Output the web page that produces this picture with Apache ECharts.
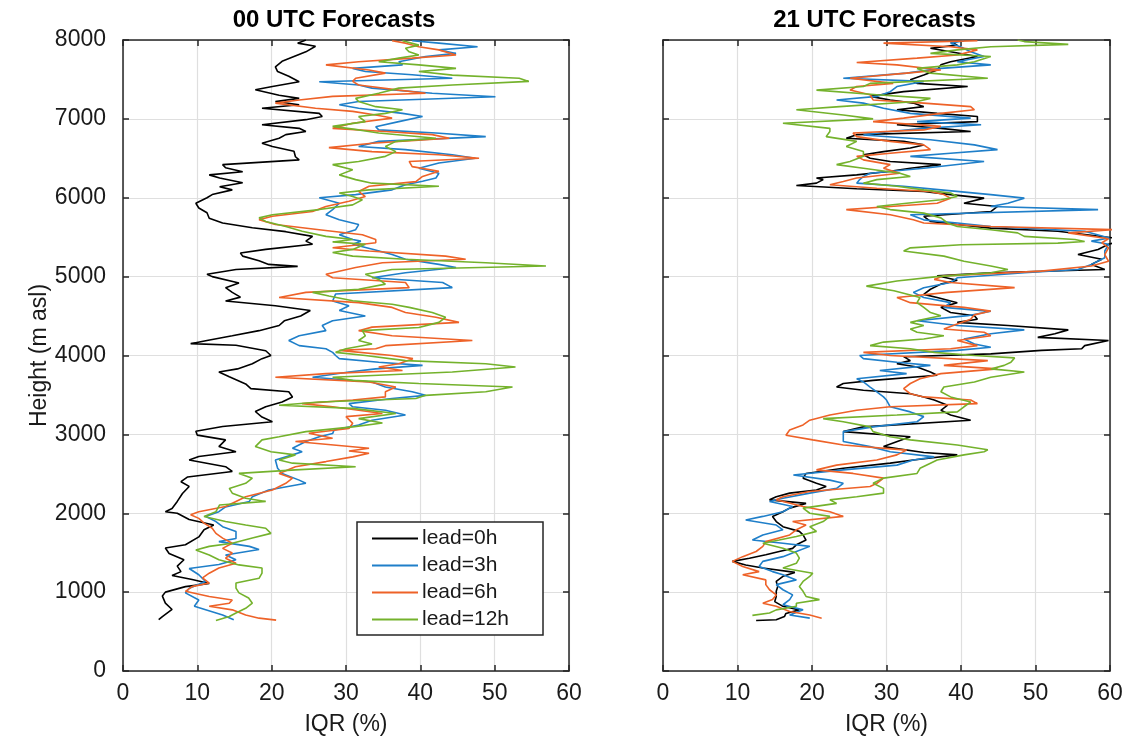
<!DOCTYPE html>
<html>
<head>
<meta charset="utf-8">
<script src="https://cdn.jsdelivr.net/npm/echarts@6/dist/echarts.min.js"></script>
<style>html,body{margin:0;padding:0;background:#fff;}#chart{width:1148px;height:741px;}</style>
</head>
<body>
<div id="chart"></div>
<script>
// ---------- labels ----------
const panelTitles = ['00 UTC Forecasts', '21 UTC Forecasts'];
const seriesNames = ['lead=0h', 'lead=3h', 'lead=6h', 'lead=12h'];
const xName = 'IQR (%)';
const yName = 'Height (m asl)';
const xTicks = [0, 60, 10];      // min, max, interval
const yTicks = [0, 8000, 1000];

// ---------- data: [IQR (%), height (m)] ----------
const left_lead0 = [[4.8,650],[5.3,690],[6.6,780],[5.7,860],[5.3,950],[5.7,1000],[8.4,1070],[11.6,1110],[9.3,1160],[6.6,1210],[7.8,1260],[7.3,1330],[8.2,1410],[6.2,1490],[5.7,1560],[8.4,1600],[10.2,1700],[10.9,1790],[12.2,1850],[8.9,1920],[7.3,2000],[5.7,2020],[6.6,2060],[7.3,2150],[8.0,2250],[8.9,2340],[7.8,2400],[8.7,2460],[14.7,2530],[13.8,2590],[8.9,2675],[10.2,2720],[15.2,2780],[12.9,2845],[13.8,2930],[10.0,2990],[9.8,3040],[13.4,3100],[20.1,3160],[18.7,3220],[17.8,3290],[19.2,3350],[21.4,3410],[22.8,3475],[22.3,3540],[17.2,3580],[16.5,3640],[14.3,3730],[12.9,3790],[15.4,3830],[17.4,3895],[18.7,3960],[19.9,4000],[19.2,4060],[15.2,4130],[9.1,4150],[11.3,4190],[14.7,4250],[18.3,4315],[21.0,4380],[21.7,4440],[23.9,4500],[25.2,4570],[20.5,4630],[13.8,4690],[15.8,4740],[14.7,4800],[13.8,4860],[15.6,4920],[12.0,5000],[11.3,5030],[15.2,5090],[23.5,5130],[19.6,5155],[18.3,5200],[16.1,5260],[15.8,5300],[19.2,5345],[25.5,5410],[24.6,5450],[25.5,5510],[21.9,5570],[17.4,5620],[13.4,5680],[11.6,5740],[11.3,5810],[10.2,5870],[9.8,5930],[11.3,6000],[12.0,6040],[14.7,6100],[13.0,6140],[16.1,6190],[13.0,6250],[11.6,6290],[16.1,6330],[13.8,6380],[13.4,6420],[23.7,6480],[23.2,6520],[23.0,6590],[20.1,6650],[18.7,6690],[21.0,6755],[21.9,6800],[24.6,6840],[23.7,6880],[18.7,6925],[24.6,6990],[26.8,7030],[26.4,7070],[18.7,7135],[23.7,7180],[20.5,7220],[23.7,7260],[21.0,7300],[17.8,7370],[20.1,7410],[23.7,7470],[22.3,7540],[20.8,7600],[20.5,7660],[21.4,7730],[23.0,7790],[24.6,7850],[25.9,7920],[23.5,7960],[24.6,8000]];
const left_lead3 = [[14.9,650],[13.4,710],[9.6,820],[10.2,900],[8.4,990],[8.9,1050],[11.1,1135],[10.2,1220],[8.9,1300],[12.9,1350],[15.2,1410],[13.8,1470],[18.3,1540],[17.0,1580],[12.9,1640],[15.2,1680],[15.2,1770],[13.4,1830],[12.5,1895],[11.1,1960],[12.9,2020],[13.8,2080],[17.0,2150],[17.4,2210],[19.6,2295],[24.6,2380],[23.7,2420],[21.4,2505],[20.8,2570],[20.5,2675],[22.8,2740],[24.1,2780],[22.8,2825],[24.6,2910],[26.4,2970],[28.2,3010],[28.4,3055],[31.7,3120],[33.5,3180],[38.0,3245],[35.3,3305],[30.9,3350],[30.4,3390],[36.2,3455],[40.7,3495],[38.9,3540],[35.3,3600],[33.5,3665],[25.5,3725],[30.4,3790],[34.0,3830],[40.3,3875],[34.4,3915],[29.1,3960],[28.6,4000],[28.2,4040],[27.3,4085],[23.7,4125],[22.3,4190],[23.7,4250],[27.3,4315],[26.8,4380],[28.2,4440],[32.6,4500],[29.1,4570],[30.4,4630],[28.2,4690],[28.6,4780],[44.3,4860],[43.0,4925],[33.5,4985],[38.0,5050],[44.8,5115],[42.5,5155],[38.0,5220],[36.2,5280],[33.7,5345],[30.9,5410],[32.0,5450],[30.9,5470],[29.1,5530],[31.3,5595],[31.7,5660],[29.1,5720],[27.3,5785],[28.2,5850],[29.1,5930],[26.4,6000],[31.3,6040],[36.2,6100],[38.0,6165],[40.3,6210],[42.1,6250],[42.5,6310],[39.8,6375],[42.5,6440],[47.4,6500],[44.3,6545],[38.0,6610],[31.7,6650],[34.4,6715],[48.8,6775],[42.1,6820],[34.4,6860],[34.0,6900],[37.1,6965],[40.3,7030],[37.6,7070],[31.7,7135],[29.1,7180],[31.7,7220],[50.1,7280],[41.6,7325],[33.5,7390],[31.7,7430],[26.4,7470],[44.3,7515],[38.9,7560],[32.6,7600],[30.9,7640],[37.6,7685],[37.1,7725],[40.7,7790],[44.8,7830],[42.5,7875],[47.7,7915],[42.5,7960],[38.9,7990]];
const left_lead6 = [[20.6,645],[18.3,670],[16.5,710],[14.7,775],[11.6,820],[14.3,860],[14.7,900],[11.6,945],[8.4,1010],[9.3,1070],[11.6,1115],[10.7,1180],[11.6,1240],[12.9,1305],[15.2,1365],[13.8,1430],[14.7,1495],[13.4,1555],[14.7,1620],[13.4,1685],[12.5,1745],[12.0,1810],[10.9,1875],[10.2,1935],[9.1,1980],[10.2,2020],[13.8,2085],[15.2,2150],[16.5,2210],[20.1,2295],[21.9,2380],[22.8,2445],[21.0,2505],[23.2,2590],[27.3,2655],[30.9,2715],[33.1,2760],[30.4,2790],[33.1,2825],[23.2,2910],[28.2,2950],[25.0,3015],[30.4,3075],[30.9,3140],[30.0,3225],[34.9,3265],[31.7,3305],[28.2,3350],[24.1,3390],[30.9,3435],[35.3,3475],[35.3,3540],[36.7,3600],[33.1,3665],[20.5,3725],[27.3,3770],[37.6,3810],[34.4,3855],[37.1,3895],[39.0,3960],[36.2,4000],[29.1,4065],[34.0,4085],[35.3,4125],[47.0,4190],[36.2,4250],[31.7,4315],[33.5,4360],[45.2,4420],[42.1,4485],[38.0,4545],[36.2,4610],[31.7,4670],[21.0,4735],[24.6,4800],[38.5,4860],[38.0,4925],[28.2,4985],[27.3,5030],[31.3,5115],[34.9,5175],[46.1,5220],[43.4,5260],[33.1,5325],[28.2,5366],[34.0,5430],[34.0,5470],[32.2,5530],[26.4,5595],[20.5,5660],[18.3,5720],[20.1,5765],[25.5,5825],[27.3,5890],[30.4,5955],[32.6,6015],[31.7,6080],[33.1,6145],[39.4,6205],[40.3,6270],[42.5,6335],[38.9,6395],[38.5,6460],[47.9,6500],[42.5,6545],[33.5,6585],[27.7,6635],[33.5,6690],[43.9,6755],[41.6,6800],[35.3,6840],[28.2,6880],[30.9,6945],[36.2,7010],[34.0,7050],[30.9,7095],[25.9,7135],[20.5,7200],[23.7,7240],[28.2,7285],[40.7,7325],[37.1,7365],[31.7,7430],[30.9,7475],[31.3,7515],[35.3,7580],[33.1,7620],[27.3,7685],[31.7,7725],[38.9,7770],[44.8,7810],[42.5,7875],[39.8,7915],[38.0,7960],[36.2,7990]];
const left_lead12 = [[12.5,640],[14.3,690],[15.2,735],[16.5,795],[17.4,860],[16.9,925],[15.6,990],[15.2,1050],[15.2,1115],[18.3,1175],[18.7,1240],[18.7,1305],[15.6,1345],[12.9,1410],[11.6,1470],[9.8,1535],[11.6,1580],[14.7,1620],[17.4,1685],[19.9,1745],[19.2,1810],[16.5,1850],[13.8,1895],[10.9,1960],[12.5,2020],[13.0,2105],[19.2,2150],[16.5,2190],[14.7,2255],[14.3,2315],[16.5,2380],[17.4,2445],[15.6,2505],[23.2,2550],[31.3,2590],[22.8,2635],[21.0,2675],[23.2,2740],[19.9,2780],[17.8,2845],[18.7,2930],[21.0,2970],[24.6,3035],[30.9,3095],[34.9,3145],[31.7,3200],[36.7,3265],[30.9,3330],[21.0,3370],[26.4,3410],[39.4,3455],[40.7,3495],[48.8,3540],[52.4,3600],[39.8,3645],[30.9,3685],[28.2,3725],[44.3,3790],[52.8,3855],[48.8,3895],[38.0,3935],[32.6,4000],[28.6,4040],[30.0,4085],[33.5,4145],[31.7,4190],[32.6,4250],[32.2,4315],[39.8,4355],[42.5,4420],[43.4,4485],[41.6,4545],[38.5,4610],[36.2,4650],[30.9,4695],[27.7,4755],[25.5,4800],[31.7,4840],[35.3,4905],[34.4,4965],[32.6,5030],[36.2,5090],[56.9,5135],[48.8,5175],[38.0,5220],[30.9,5260],[28.2,5305],[30.9,5345],[32.6,5410],[28.2,5440],[30.9,5470],[27.3,5510],[24.1,5575],[21.9,5635],[19.2,5700],[18.3,5745],[20.1,5785],[26.4,5850],[30.9,5910],[32.2,5975],[30.9,6015],[29.1,6060],[33.1,6100],[42.5,6145],[33.5,6185],[31.3,6230],[29.1,6290],[30.9,6355],[28.2,6420],[31.7,6460],[35.3,6525],[36.7,6585],[35.3,6650],[36.7,6715],[42.1,6755],[34.4,6820],[31.7,6860],[28.2,6905],[32.6,6965],[31.7,7030],[35.3,7070],[37.6,7115],[34.0,7155],[31.7,7220],[31.3,7260],[34.4,7325],[37.1,7390],[44.3,7430],[54.6,7475],[53.3,7515],[44.3,7555],[39.8,7600],[44.8,7640],[39.8,7685],[34.4,7725],[37.1,7770],[39.8,7810],[38.5,7850],[38.0,7895],[39.8,7935],[37.6,7990]];

const right_lead0 = [[12.5,640],[15.2,650],[16.3,690],[16.5,730],[18.3,775],[16.1,820],[15.0,880],[15.2,945],[15.2,1010],[15.4,1070],[15.2,1135],[16.1,1200],[17.7,1250],[13.4,1305],[11.1,1345],[9.3,1390],[11.6,1430],[13.8,1475],[15.6,1515],[17.4,1555],[17.9,1600],[19.2,1660],[18.8,1725],[18.3,1770],[16.1,1830],[15.2,1895],[14.7,1960],[16.1,2020],[17.0,2065],[19.2,2125],[14.3,2170],[15.2,2210],[17.0,2255],[20.6,2295],[21.9,2340],[20.6,2380],[18.8,2445],[19.2,2505],[24.2,2570],[30.5,2635],[33.6,2675],[39.5,2740],[35.0,2770],[29.6,2845],[33.2,2970],[24.2,3035],[26.9,3095],[41.3,3180],[38.6,3245],[37.3,3305],[38.2,3370],[36.4,3435],[35.0,3475],[33.2,3515],[26.9,3560],[23.3,3600],[24.2,3645],[28.2,3685],[36.8,3750],[35.9,3790],[34.1,3855],[31.4,3895],[33.2,3935],[32.3,3985],[44.0,4020],[50.8,4065],[56.2,4085],[56.6,4125],[59.8,4190],[50.3,4230],[52.6,4275],[54.4,4325],[46.3,4380],[39.5,4420],[42.2,4460],[41.8,4505],[38.6,4545],[37.3,4610],[39.5,4670],[36.8,4735],[35.0,4775],[35.9,4840],[37.3,4905],[39.5,4955],[36.8,5010],[44.0,5050],[59.3,5090],[57.5,5155],[58.9,5220],[55.7,5280],[58.4,5345],[59.8,5410],[61.0,5440],[60.5,5490],[53.0,5575],[44.0,5615],[39.5,5660],[35.9,5700],[35.0,5765],[44.0,5825],[44.9,5890],[40.4,5930],[43.1,5995],[38.6,6040],[35.0,6080],[26.0,6115],[17.9,6155],[20.6,6185],[21.5,6230],[20.6,6250],[26.0,6290],[30.5,6335],[33.2,6375],[37.3,6420],[30.5,6460],[27.8,6500],[26.9,6545],[29.6,6585],[33.2,6630],[35.0,6670],[32.3,6715],[24.6,6755],[26.0,6800],[41.3,6840],[37.3,6880],[31.4,6925],[42.2,6965],[42.2,7030],[36.8,7070],[31.4,7115],[35.0,7155],[33.6,7200],[30.5,7240],[27.8,7285],[32.3,7345],[40.9,7410],[34.1,7450],[33.2,7495],[35.0,7555],[36.8,7620],[37.3,7685],[38.6,7725],[42.2,7790],[38.6,7850],[35.9,7895],[39.5,7935],[38.6,7980]];
const right_lead3 = [[19.7,670],[17.0,710],[18.8,775],[16.1,840],[17.0,905],[17.4,965],[16.1,1030],[15.2,1095],[17.9,1155],[16.1,1220],[14.7,1260],[12.9,1325],[13.4,1390],[16.1,1450],[17.9,1515],[19.7,1580],[16.1,1620],[12.0,1660],[13.4,1725],[16.1,1790],[15.2,1850],[11.1,1915],[13.4,1960],[16.1,2020],[17.4,2085],[14.3,2150],[16.1,2190],[19.7,2255],[23.3,2315],[24.2,2380],[22.4,2420],[17.5,2485],[24.2,2550],[31.4,2610],[33.6,2675],[36.4,2715],[30.5,2780],[27.8,2845],[24.2,2910],[24.2,2970],[24.2,3035],[28.2,3095],[34.1,3160],[35.0,3225],[33.2,3285],[30.5,3350],[30.0,3435],[29.6,3475],[28.7,3540],[27.8,3600],[26.9,3665],[26.0,3705],[32.7,3770],[29.1,3810],[35.9,3875],[31.4,3915],[26.9,3960],[26.4,4000],[39.5,4065],[44.0,4105],[41.8,4145],[40.4,4210],[44.0,4275],[48.5,4325],[39.5,4380],[34.1,4440],[40.9,4505],[44.0,4560],[37.7,4610],[38.6,4670],[35.0,4735],[33.6,4800],[35.0,4860],[38.6,4925],[39.5,4985],[48.5,5050],[55.7,5090],[57.5,5155],[59.3,5240],[59.3,5325],[59.8,5410],[57.5,5450],[59.9,5490],[56.6,5575],[44.0,5635],[39.5,5680],[35.0,5720],[33.2,5785],[58.4,5850],[44.0,5890],[46.3,5930],[48.5,5995],[44.0,6040],[37.3,6100],[32.3,6145],[26.0,6185],[26.4,6230],[26.9,6270],[27.8,6310],[35.0,6375],[43.1,6460],[33.2,6525],[38.6,6565],[44.9,6610],[41.8,6670],[35.9,6735],[26.9,6795],[30.5,6840],[35.0,6880],[42.7,6925],[34.1,6965],[41.3,7010],[33.2,7070],[29.6,7135],[26.9,7200],[23.3,7240],[28.7,7285],[30.5,7345],[31.4,7410],[35.0,7475],[24.2,7515],[32.7,7580],[37.3,7640],[44.0,7685],[39.5,7725],[43.1,7790],[41.3,7850],[39.9,7915],[38.6,7960],[40.4,7990]];
const right_lead6 = [[21.3,670],[19.7,710],[17.0,755],[15.2,820],[13.4,860],[14.7,905],[15.2,965],[14.3,1030],[13.8,1095],[13.8,1155],[10.7,1220],[12.9,1260],[10.7,1325],[9.3,1390],[10.7,1450],[12.5,1515],[13.4,1580],[13.8,1640],[17.0,1725],[17.9,1790],[19.2,1850],[17.4,1895],[24.2,1960],[22.4,2020],[18.8,2085],[15.2,2170],[16.1,2210],[19.7,2275],[27.8,2340],[28.7,2380],[29.6,2445],[25.5,2505],[20.6,2550],[23.3,2610],[28.7,2675],[31.4,2740],[32.7,2800],[24.2,2865],[20.1,2930],[16.5,2990],[17.0,3055],[18.8,3120],[19.7,3180],[22.4,3245],[26.0,3305],[30.5,3350],[42.2,3390],[41.3,3435],[35.0,3475],[33.2,3515],[32.3,3580],[33.2,3645],[34.5,3705],[37.3,3770],[44.9,3830],[37.7,3875],[43.6,3935],[30.5,4000],[26.9,4040],[38.6,4085],[42.2,4125],[39.5,4190],[44.0,4250],[43.1,4295],[37.7,4335],[39.5,4400],[41.3,4460],[41.8,4515],[44.0,4565],[40.4,4610],[33.2,4670],[31.4,4735],[38.2,4800],[47.2,4860],[38.6,4925],[36.4,4965],[37.7,5010],[50.8,5070],[57.5,5135],[59.8,5195],[59.3,5280],[59.8,5365],[58.9,5430],[59.8,5480],[54.4,5555],[60.5,5595],[44.0,5635],[35.0,5680],[33.6,5720],[30.5,5785],[24.6,5850],[30.5,5890],[36.8,5930],[38.6,5995],[37.7,6040],[35.9,6080],[28.7,6120],[22.4,6165],[24.2,6205],[26.0,6250],[31.8,6310],[29.6,6375],[30.5,6420],[26.9,6480],[26.0,6525],[30.5,6565],[35.9,6610],[35.0,6670],[30.5,6715],[26.0,6775],[25.5,6820],[35.0,6860],[37.3,6905],[28.2,6965],[32.3,7010],[37.3,7070],[41.8,7115],[41.3,7155],[35.0,7200],[28.2,7240],[27.8,7305],[25.1,7365],[26.0,7410],[30.9,7450],[25.1,7515],[32.7,7580],[37.3,7620],[31.4,7685],[26.0,7715],[34.1,7770],[39.5,7810],[42.2,7875],[38.6,7915],[29.6,7960],[42.2,7990]];
const right_lead12 = [[12.0,705],[14.3,735],[15.2,775],[17.9,820],[17.9,860],[21.0,905],[19.2,945],[18.8,1010],[18.3,1070],[18.8,1135],[19.7,1200],[20.1,1240],[16.1,1305],[17.9,1365],[18.3,1430],[17.9,1495],[16.1,1555],[13.4,1620],[15.6,1660],[17.9,1705],[20.6,1770],[19.7,1830],[21.5,1895],[22.4,1960],[19.7,2000],[18.8,2065],[23.3,2125],[22.4,2170],[26.0,2210],[29.6,2255],[29.6,2315],[28.2,2380],[29.6,2445],[34.1,2505],[34.5,2570],[35.9,2635],[36.8,2675],[40.4,2740],[43.1,2780],[43.6,2805],[39.5,2865],[33.2,2930],[30.5,2970],[28.2,3035],[27.8,3095],[24.2,3160],[21.5,3200],[31.4,3245],[39.5,3285],[40.4,3350],[41.3,3410],[38.6,3475],[37.3,3540],[37.7,3600],[41.8,3665],[44.0,3725],[48.5,3790],[44.0,3830],[45.8,3875],[46.7,3915],[47.2,3970],[41.8,4000],[36.4,4040],[33.2,4085],[27.8,4125],[29.6,4170],[35.0,4210],[37.7,4250],[34.1,4295],[33.2,4335],[35.0,4380],[33.2,4420],[35.0,4460],[37.3,4505],[35.9,4545],[35.0,4610],[34.1,4670],[34.5,4735],[31.0,4820],[27.3,4880],[31.4,4945],[36.8,5000],[44.0,5050],[46.3,5090],[44.0,5135],[40.4,5195],[37.7,5260],[32.3,5325],[33.2,5365],[40.0,5405],[53.0,5425],[56.6,5445],[55.3,5470],[48.5,5510],[47.6,5555],[44.0,5595],[39.5,5635],[38.2,5680],[37.3,5745],[35.0,5805],[30.5,5850],[28.7,5890],[32.7,5930],[37.3,5975],[39.5,6015],[38.6,6060],[35.0,6100],[31.4,6145],[26.9,6185],[28.7,6230],[33.2,6270],[31.8,6310],[26.9,6375],[23.3,6420],[25.1,6460],[26.9,6525],[26.9,6585],[24.6,6650],[26.0,6715],[21.9,6775],[22.4,6840],[22.4,6880],[16.1,6945],[28.2,7000],[24.2,7050],[17.9,7115],[23.7,7155],[34.1,7220],[35.9,7260],[28.7,7305],[20.6,7365],[26.9,7410],[27.8,7450],[43.6,7515],[35.9,7580],[34.1,7640],[39.5,7685],[41.8,7725],[44.0,7790],[35.9,7830],[39.5,7875],[44.0,7915],[54.4,7945],[48.5,7980],[47.6,8000]];

const leftData = [left_lead0, left_lead3, left_lead6, left_lead12];
const rightData = [right_lead0, right_lead3, right_lead6, right_lead12];
const colors = ['#000000', '#1f7fc9', '#ee6228', '#74b22c'];

// ---------- chart ----------
const FONT = '"Liberation Sans", Arial, Helvetica, sans-serif';
const AX = '#262626';
const TXT = '#1a1a1a';
const chart = echarts.init(document.getElementById('chart'), null, {renderer: 'canvas'});

const grids = [
  {left: 123, top: 40, width: 446, height: 631},
  {left: 663, top: 40, width: 447, height: 631}
];

function xAxes(gi) {
  return [
    {
      type: 'value', gridIndex: gi, position: 'bottom',
      min: xTicks[0], max: xTicks[1], interval: xTicks[2],
      name: xName, nameLocation: 'middle', nameGap: 42,
      nameTextStyle: {fontFamily: FONT, fontSize: 23, color: TXT},
      axisLine: {show: true, onZero: false, lineStyle: {color: AX, width: 1.5}},
      axisTick: {show: true, inside: true, length: 6, lineStyle: {color: AX, width: 1.5}},
      axisLabel: {show: true, margin: 11, fontFamily: FONT, fontSize: 23, color: TXT,
                  formatter: function (v) { return String(v); }},
      splitLine: {show: true, lineStyle: {color: '#dfdfdf', width: 1.2}}
    },
    {
      type: 'value', gridIndex: gi, position: 'top',
      min: xTicks[0], max: xTicks[1], interval: xTicks[2],
      name: panelTitles[gi], nameLocation: 'middle', nameGap: 8,
      nameTextStyle: {fontFamily: FONT, fontSize: 24, fontWeight: 'bold', color: '#000', padding: [0, 24, 0, 0]},
      axisLine: {show: true, onZero: false, lineStyle: {color: AX, width: 1.5}},
      axisTick: {show: true, inside: true, length: 6, lineStyle: {color: AX, width: 1.5}},
      axisLabel: {show: false},
      splitLine: {show: false}
    }
  ];
}
function yAxes(gi) {
  return [
    {
      type: 'value', gridIndex: gi, position: 'left',
      min: yTicks[0], max: yTicks[1], interval: yTicks[2],
      name: gi === 0 ? yName : '', nameLocation: 'middle', nameGap: 72, nameRotate: 90,
      nameTextStyle: {fontFamily: FONT, fontSize: 23, color: TXT},
      axisLine: {show: true, onZero: false, lineStyle: {color: AX, width: 1.5}},
      axisTick: {show: true, inside: true, length: 6, lineStyle: {color: AX, width: 1.5}},
      axisLabel: {show: gi === 0, margin: 17, fontFamily: FONT, fontSize: 23, color: TXT,
                  formatter: function (v) { return String(v); }},
      splitLine: {show: true, lineStyle: {color: '#dfdfdf', width: 1.2}}
    },
    {
      type: 'value', gridIndex: gi, position: 'right',
      min: yTicks[0], max: yTicks[1], interval: yTicks[2],
      axisLine: {show: true, onZero: false, lineStyle: {color: AX, width: 1.5}},
      axisTick: {show: true, inside: true, length: 6, lineStyle: {color: AX, width: 1.5}},
      axisLabel: {show: false},
      splitLine: {show: false}
    }
  ];
}

const series = [];
[leftData, rightData].forEach(function (set, gi) {
  set.forEach(function (d, i) {
    series.push({
      name: seriesNames[i], type: 'line',
      xAxisIndex: gi * 2, yAxisIndex: gi * 2,
      data: d, showSymbol: false, symbol: 'none', clip: true,
      smooth: false, animation: false,
      lineStyle: {color: colors[i], width: 1.6},
      itemStyle: {color: colors[i]},
      z: 2 + i
    });
  });
});

chart.setOption({
  backgroundColor: '#ffffff',
  animation: false,
  grid: grids,
  xAxis: xAxes(0).concat(xAxes(1)),
  yAxis: yAxes(0).concat(yAxes(1)),
  legend: {
    data: seriesNames,
    orient: 'vertical', left: 357, top: 522,
    backgroundColor: '#ffffff', borderColor: AX, borderWidth: 1.5, borderRadius: 0,
    padding: [6, 34, 5, 15], itemGap: 6, itemWidth: 46, itemHeight: 2,
    icon: 'rect',
    textStyle: {fontFamily: FONT, fontSize: 21, color: TXT, lineHeight: 21, padding: [0, 0, 0, -1]}
  },
  series: series
});
</script>
</body>
</html>
